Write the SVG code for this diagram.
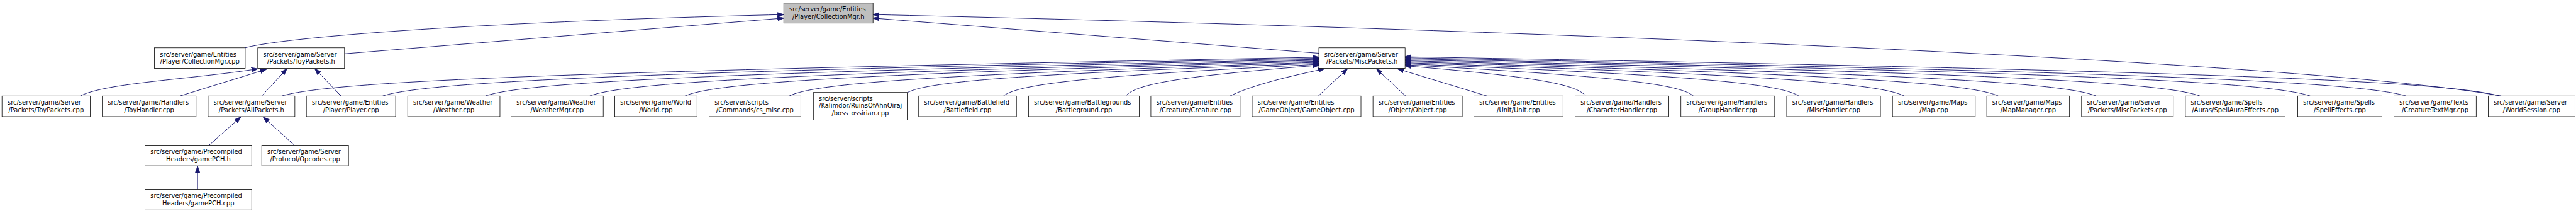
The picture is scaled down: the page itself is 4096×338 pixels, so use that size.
<svg xmlns="http://www.w3.org/2000/svg" width="4096" height="338" viewBox="0 0 4096 338">
<style>
.n rect{fill:#fff;stroke:#000;stroke-width:1}
#root rect{fill:#bfbfbf}
text{font-family:"DejaVu Sans","Liberation Sans",sans-serif;font-size:12.5px;fill:#000}
.m{text-anchor:middle}
.e path{fill:none;stroke:#191970;stroke-width:1.2;marker-end:url(#ah)}
</style>
<defs>
<marker id="ah" markerUnits="userSpaceOnUse" markerWidth="13" markerHeight="10" viewBox="0 0 13 10" refX="12.5" refY="5" orient="auto"><path d="M0,0.5 L13,5 L0,9.5 z" fill="#191970" stroke="#191970" stroke-width="1"/></marker>
</defs>
<rect width="4096" height="338" fill="#fff"/>
<g transform="scale(0.79735)">
<g id="edges" class="e">
<path d="M562,191 C665,160 1182,141 2630,114"/>
<path d="M763,191 C856,161 1323,142 2630,116"/>
<path d="M968,191 C1051,162 1467,144 2630,118"/>
<path d="M1176,191 C1249,163 1612,145 2630,120"/>
<path d="M1366,191 C1429,163 1745,146 2630,122"/>
<path d="M1574,191 C1627,164 1891,148 2630,124"/>
<path d="M1808,185 C1849,161 2055,147 2630,126"/>
<path d="M2001,191 C2032,166 2190,150 2630,128"/>
<path d="M2245,191 C2264,167 2360,151 2630,130"/>
<path d="M3162,191 C3144,167 3054,152 2802,131"/>
<path d="M3377,191 C3348,166 3204,151 2802,129"/>
<path d="M3587,191 C3548,165 3352,149 2802,127"/>
<path d="M3797,191 C3747,165 3498,148 2802,125"/>
<path d="M3985,191 C3926,164 3630,147 2802,123"/>
<path d="M4180,191 C4111,163 3767,146 2802,121"/>
<path d="M4387,191 C4308,162 3912,144 2802,119"/>
<path d="M4607,191 C4517,161 4066,143 2802,117"/>
<path d="M4798,191 C4698,161 4199,142 2802,115"/>
<path d="M4984,191 C4875,160 4329,140 2802,113"/>
<path d="M2453,191 C2500,168 2580,150 2641,137"/>
<path d="M2629,191 L2687,137"/>
<path d="M2803,191 L2745,137"/>
<path d="M2965,191 L2787,137"/>
<path d="M160,191 C210,165 380,158 514,137"/>
<path d="M359,191 L531,138"/>
<path d="M522,191 L572,137"/>
<path d="M680,191 L628,137"/>
<path d="M417,289 L480,233"/>
<path d="M587,289 L525,233"/>
<path d="M394,377 L394,331"/>
<path d="M489,95 C560,76 900,45 1563,29"/>
<path d="M687,107 L1563,36"/>
<path d="M2630,106 L1741,36"/>
<path d="M4988,191 C4650,130 3300,65 1741,29"/>
</g>
<g id="root" class="n"><rect x="1563" y="6" width="178" height="40"/><text x="1574" y="23">src/server/game/Entities</text><text class="m" x="1652" y="37.2">/Player/CollectionMgr.h</text></g>
<g id="n_collectionmgr_cpp" class="n"><rect x="308" y="95" width="181" height="41"/><text x="319" y="112.4">src/server/game/Entities</text><text class="m" x="398.5" y="126.7">/Player/CollectionMgr.cpp</text></g>
<g id="n_toypackets_h" class="n"><rect x="514" y="95" width="173" height="41"/><text x="525" y="112.4">src/server/game/Server</text><text class="m" x="600.5" y="126.7">/Packets/ToyPackets.h</text></g>
<g id="n_miscpackets_h" class="n"><rect x="2630" y="95" width="172" height="41"/><text x="2641" y="112.4">src/server/game/Server</text><text class="m" x="2716" y="126.7">/Packets/MiscPackets.h</text></g>
<g id="n_toypackets_cpp" class="n"><rect x="4" y="191" width="176" height="41"/><text x="15" y="208.4">src/server/game/Server</text><text class="m" x="92" y="222.7">/Packets/ToyPackets.cpp</text></g>
<g id="n_toyhandler" class="n"><rect x="204" y="191" width="187" height="41"/><text x="215" y="208.4">src/server/game/Handlers</text><text class="m" x="297.5" y="222.7">/ToyHandler.cpp</text></g>
<g id="n_allpackets" class="n"><rect x="415" y="191" width="173" height="41"/><text x="426" y="208.4">src/server/game/Server</text><text class="m" x="501.5" y="222.7">/Packets/AllPackets.h</text></g>
<g id="n_player" class="n"><rect x="611" y="191" width="178" height="41"/><text x="622" y="208.4">src/server/game/Entities</text><text class="m" x="700" y="222.7">/Player/Player.cpp</text></g>
<g id="n_weather" class="n"><rect x="813" y="191" width="184" height="41"/><text x="824" y="208.4">src/server/game/Weather</text><text class="m" x="905" y="222.7">/Weather.cpp</text></g>
<g id="n_weathermgr" class="n"><rect x="1019" y="191" width="184" height="41"/><text x="1030" y="208.4">src/server/game/Weather</text><text class="m" x="1111" y="222.7">/WeatherMgr.cpp</text></g>
<g id="n_world" class="n"><rect x="1226" y="191" width="164" height="41"/><text x="1237" y="208.4">src/server/game/World</text><text class="m" x="1308" y="222.7">/World.cpp</text></g>
<g id="n_cs_misc" class="n"><rect x="1414" y="191" width="183" height="41"/><text x="1425" y="208.4">src/server/scripts</text><text class="m" x="1505.5" y="222.7">/Commands/cs_misc.cpp</text></g>
<g id="n_boss_ossirian" class="n"><rect x="1622" y="184" width="187" height="55"/><text x="1633" y="200.8">src/server/scripts</text><text x="1633" y="214.9">/Kalimdor/RuinsOfAhnQiraj</text><text class="m" x="1715.5" y="229">/boss_ossirian.cpp</text></g>
<g id="n_battlefield" class="n"><rect x="1832" y="191" width="195" height="41"/><text x="1843" y="208.4">src/server/game/Battlefield</text><text class="m" x="1929.5" y="222.7">/Battlefield.cpp</text></g>
<g id="n_battleground" class="n"><rect x="2051" y="191" width="221" height="41"/><text x="2062" y="208.4">src/server/game/Battlegrounds</text><text class="m" x="2161.5" y="222.7">/Battleground.cpp</text></g>
<g id="n_creature" class="n"><rect x="2295" y="191" width="178" height="41"/><text x="2306" y="208.4">src/server/game/Entities</text><text class="m" x="2384" y="222.7">/Creature/Creature.cpp</text></g>
<g id="n_gameobject" class="n"><rect x="2497" y="191" width="217" height="41"/><text x="2508" y="208.4">src/server/game/Entities</text><text class="m" x="2605.5" y="222.7">/GameObject/GameObject.cpp</text></g>
<g id="n_object" class="n"><rect x="2738" y="191" width="178" height="41"/><text x="2749" y="208.4">src/server/game/Entities</text><text class="m" x="2827" y="222.7">/Object/Object.cpp</text></g>
<g id="n_unit" class="n"><rect x="2939" y="191" width="178" height="41"/><text x="2950" y="208.4">src/server/game/Entities</text><text class="m" x="3028" y="222.7">/Unit/Unit.cpp</text></g>
<g id="n_characterhandler" class="n"><rect x="3141" y="191" width="187" height="41"/><text x="3152" y="208.4">src/server/game/Handlers</text><text class="m" x="3234.5" y="222.7">/CharacterHandler.cpp</text></g>
<g id="n_grouphandler" class="n"><rect x="3352" y="191" width="187" height="41"/><text x="3363" y="208.4">src/server/game/Handlers</text><text class="m" x="3445.5" y="222.7">/GroupHandler.cpp</text></g>
<g id="n_mischandler" class="n"><rect x="3563" y="191" width="187" height="41"/><text x="3574" y="208.4">src/server/game/Handlers</text><text class="m" x="3656.5" y="222.7">/MiscHandler.cpp</text></g>
<g id="n_map" class="n"><rect x="3774" y="191" width="165" height="41"/><text x="3785" y="208.4">src/server/game/Maps</text><text class="m" x="3856.5" y="222.7">/Map.cpp</text></g>
<g id="n_mapmanager" class="n"><rect x="3962" y="191" width="165" height="41"/><text x="3973" y="208.4">src/server/game/Maps</text><text class="m" x="4044.5" y="222.7">/MapManager.cpp</text></g>
<g id="n_miscpackets_cpp" class="n"><rect x="4151" y="191" width="183" height="41"/><text x="4162" y="208.4">src/server/game/Server</text><text class="m" x="4242.5" y="222.7">/Packets/MiscPackets.cpp</text></g>
<g id="n_spellauraeffects" class="n"><rect x="4358" y="191" width="199" height="41"/><text x="4369" y="208.4">src/server/game/Spells</text><text class="m" x="4457.5" y="222.7">/Auras/SpellAuraEffects.cpp</text></g>
<g id="n_spelleffects" class="n"><rect x="4582" y="191" width="168" height="41"/><text x="4593" y="208.4">src/server/game/Spells</text><text class="m" x="4666" y="222.7">/SpellEffects.cpp</text></g>
<g id="n_creaturetextmgr" class="n"><rect x="4774" y="191" width="164" height="41"/><text x="4785" y="208.4">src/server/game/Texts</text><text class="m" x="4856" y="222.7">/CreatureTextMgr.cpp</text></g>
<g id="n_worldsession" class="n"><rect x="4962" y="191" width="173" height="41"/><text x="4973" y="208.4">src/server/game/Server</text><text class="m" x="5048.5" y="222.7">/WorldSession.cpp</text></g>
<g id="n_gamepch_h" class="n"><rect x="289" y="289" width="213" height="41"/><text x="300" y="306.4">src/server/game/Precompiled</text><text class="m" x="395.5" y="320.7">Headers/gamePCH.h</text></g>
<g id="n_opcodes" class="n"><rect x="522" y="289" width="173" height="41"/><text x="533" y="306.4">src/server/game/Server</text><text class="m" x="608.5" y="320.7">/Protocol/Opcodes.cpp</text></g>
<g id="n_gamepch_cpp" class="n"><rect x="289" y="377" width="213" height="41"/><text x="300" y="394.4">src/server/game/Precompiled</text><text class="m" x="395.5" y="408.7">Headers/gamePCH.cpp</text></g>
</g>
</svg>
